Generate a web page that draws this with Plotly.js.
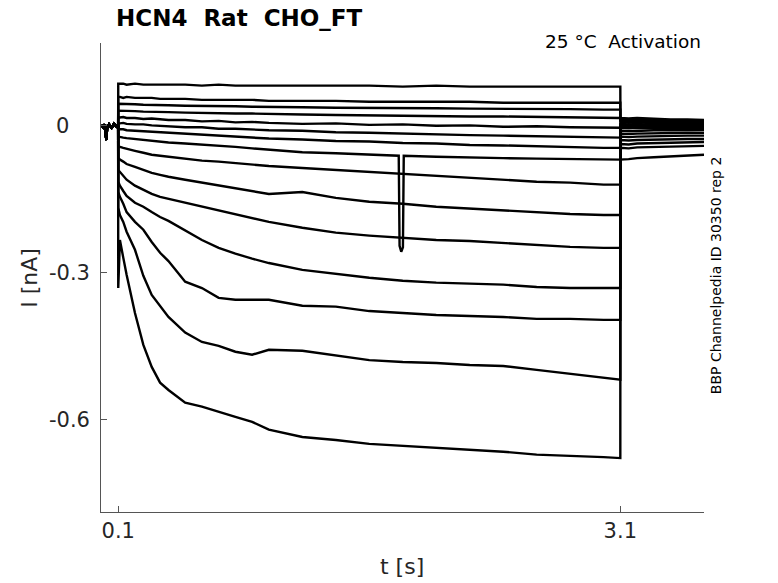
<!DOCTYPE html>
<html>
<head>
<meta charset="utf-8">
<script src="https://cdn.plot.ly/plotly-3.0.1.min.js"></script>
<style>
  html, body { margin: 0; padding: 0; background: #fff; }
  #chart { width: 778px; height: 583px; }
</style>
</head>
<body>
<div id="chart"></div>
<script>
// time base (s)
const preT = [0, 0.01, 0.02, 0.026, 0.029, 0.033, 0.045, 0.06, 0.075, 0.09, 0.0995];
const stepT = [0.1, 0.11, 0.13, 0.15, 0.2, 0.25, 0.3, 0.35, 0.4, 0.5, 0.6, 0.7, 0.8, 0.9, 1.0,
               1.2, 1.4, 1.6, 1.8, 2.0, 2.2, 2.4, 2.6, 2.8, 3.0, 3.1];
const tailT = [3.1005, 3.15, 3.2, 3.3, 3.4, 3.5, 3.6];

// holding current before the step (nA)
const preI = [0.002, -0.003, 0.003, -0.012, -0.029, -0.006, 0.003, -0.004, 0.004, -0.002, 0.0];

// current during the activation step (nA), top sweep first
const sweep01 = [0.086,0.086,0.086,0.084,0.086,0.084,0.084,0.084,0.084,0.084,0.082,0.084,0.082,0.082,0.082,0.082,0.082,0.082,0.080,0.082,0.080,0.080,0.080,0.080,0.080,0.080];
const sweep02 = [0.059,0.059,0.057,0.059,0.057,0.057,0.057,0.055,0.055,0.055,0.053,0.053,0.053,0.053,0.051,0.051,0.051,0.049,0.049,0.049,0.049,0.047,0.047,0.047,0.047,0.047];
const sweep03 = [0.045,0.045,0.044,0.045,0.044,0.043,0.043,0.042,0.042,0.041,0.041,0.040,0.040,0.039,0.039,0.038,0.037,0.037,0.036,0.036,0.035,0.035,0.034,0.034,0.033,0.033];
const sweep04 = [0.031,0.031,0.030,0.031,0.030,0.029,0.029,0.028,0.028,0.027,0.026,0.026,0.025,0.025,0.024,0.023,0.022,0.021,0.021,0.020,0.019,0.019,0.018,0.017,0.016,0.016];
const sweep05 = [0.018,0.017,0.018,0.016,0.016,0.014,0.015,0.013,0.012,0.012,0.009,0.010,0.007,0.008,0.006,0.004,0.005,0.002,0.003,0.000,0.001,-0.002,-0.001,-0.003,-0.004,-0.004];
const sweep06 = [0.006,0.005,0.006,0.004,0.003,0.003,0.001,0.000,0.000,-0.003,-0.003,-0.006,-0.006,-0.008,-0.009,-0.010,-0.013,-0.014,-0.016,-0.017,-0.019,-0.020,-0.021,-0.022,-0.024,-0.024];
const sweep07 = [-0.006,-0.007,-0.007,-0.009,-0.010,-0.011,-0.012,-0.014,-0.015,-0.017,-0.018,-0.021,-0.022,-0.025,-0.026,-0.028,-0.031,-0.032,-0.035,-0.036,-0.039,-0.040,-0.042,-0.043,-0.045,-0.045];
const sweep08 = [-0.022,-0.023,-0.024,-0.025,-0.027,-0.029,-0.031,-0.033,-0.034,-0.036,-0.038,-0.041,-0.043,-0.046,-0.049,-0.054,-0.056,-0.059,-0.061,-0.063,-0.065,-0.066,-0.067,-0.068,-0.069,-0.069];
const sweep09 = [-0.041,-0.043,-0.045,-0.047,-0.051,-0.055,-0.059,-0.061,-0.063,-0.067,-0.071,-0.073,-0.076,-0.080,-0.082,-0.086,-0.090,-0.094,-0.098,-0.102,-0.106,-0.110,-0.114,-0.116,-0.120,-0.120];
const sweep10 = [-0.065,-0.069,-0.073,-0.078,-0.084,-0.090,-0.096,-0.100,-0.104,-0.110,-0.116,-0.122,-0.127,-0.133,-0.139,-0.135,-0.147,-0.155,-0.159,-0.165,-0.169,-0.173,-0.176,-0.180,-0.182,-0.182];
const sweep11 = [-0.090,-0.094,-0.102,-0.110,-0.122,-0.131,-0.139,-0.145,-0.149,-0.157,-0.165,-0.173,-0.180,-0.188,-0.196,-0.208,-0.218,-0.224,-0.229,-0.233,-0.235,-0.239,-0.243,-0.247,-0.249,-0.249];
const sweep12 = [-0.114,-0.122,-0.133,-0.143,-0.157,-0.165,-0.176,-0.186,-0.194,-0.214,-0.233,-0.249,-0.261,-0.271,-0.280,-0.294,-0.302,-0.310,-0.316,-0.320,-0.322,-0.324,-0.329,-0.331,-0.331,-0.331];
const sweep13 = [-0.135,-0.145,-0.159,-0.176,-0.196,-0.212,-0.237,-0.259,-0.276,-0.318,-0.331,-0.351,-0.355,-0.355,-0.355,-0.367,-0.369,-0.378,-0.382,-0.386,-0.388,-0.390,-0.394,-0.394,-0.396,-0.396];
const sweep14 = [-0.167,-0.182,-0.196,-0.216,-0.253,-0.306,-0.345,-0.367,-0.390,-0.422,-0.441,-0.449,-0.461,-0.467,-0.457,-0.459,-0.469,-0.478,-0.482,-0.484,-0.488,-0.490,-0.498,-0.506,-0.514,-0.518];
const sweep15 = [-0.331,-0.233,-0.269,-0.304,-0.382,-0.447,-0.492,-0.524,-0.539,-0.565,-0.573,-0.584,-0.594,-0.604,-0.620,-0.635,-0.641,-0.649,-0.653,-0.657,-0.661,-0.665,-0.671,-0.673,-0.676,-0.678];

// tail current after the step (nA)
const tail01 = [0.016,0.015,0.016,0.014,0.013,0.013,0.012];
const tail02 = [0.014,0.012,0.013,0.011,0.011,0.010,0.010];
const tail03 = [0.012,0.010,0.011,0.009,0.009,0.008,0.008];
const tail04 = [0.010,0.008,0.009,0.007,0.007,0.006,0.006];
const tail05 = [0.008,0.006,0.007,0.005,0.005,0.004,0.004];
const tail06 = [0.004,0.003,0.004,0.002,0.003,0.002,0.002];
const tail07 = [0.000,-0.001,0.000,-0.001,0.000,0.000,0.000];
const tail08 = [-0.004,-0.005,-0.004,-0.005,-0.004,-0.004,-0.004];
const tail09 = [-0.010,-0.011,-0.010,-0.009,-0.009,-0.008,-0.008];
const tail10 = [-0.016,-0.017,-0.016,-0.015,-0.015,-0.014,-0.014];
const tail11 = [-0.022,-0.023,-0.022,-0.021,-0.021,-0.020,-0.020];
const tail12 = [-0.029,-0.030,-0.029,-0.028,-0.028,-0.027,-0.027];
const tail13 = [-0.037,-0.038,-0.036,-0.035,-0.035,-0.034,-0.033];
const tail14 = [-0.045,-0.046,-0.044,-0.043,-0.042,-0.042,-0.041];
const tail15 = [-0.069,-0.068,-0.066,-0.064,-0.062,-0.061,-0.059];

// artefact in sweep 8 around 1.8 s
const glitchT = [1.776, 1.781, 1.791, 1.801, 1.806];
const glitchI = [-0.061, -0.245, -0.257, -0.248, -0.061];

const xTickVals = [0.1, 3.1];
const xTickText = ['0.1', '3.1'];
const yTickVals = [0, -0.3, -0.6];
const yTickText = ['0', '-0.3', '-0.6'];

const sweeps = [sweep01, sweep02, sweep03, sweep04, sweep05, sweep06, sweep07, sweep08,
                sweep09, sweep10, sweep11, sweep12, sweep13, sweep14, sweep15];
const tails = [tail01, tail02, tail03, tail04, tail05, tail06, tail07, tail08,
               tail09, tail10, tail11, tail12, tail13, tail14, tail15];

const traces = sweeps.map((s, i) => {
  let pts = stepT.map((t, k) => [t, s[k]]);
  if (i === 7) {
    pts = pts.filter(p => p[0] < 1.77 || p[0] > 1.81);
    glitchT.forEach((t, k) => pts.push([t, glitchI[k]]));
    pts.sort((a, b) => a[0] - b[0]);
  }
  return {
    x: preT.concat(pts.map(p => p[0]), tailT),
    y: preI.concat(pts.map(p => p[1]), tails[i]),
    type: 'scatter',
    mode: 'lines',
    line: { color: '#000', width: 2.4 },
    hoverinfo: 'skip'
  };
});

const axisCol = '#555';
const tickCol = '#262626';

const annotations = [
  { text: '<b>HCN4\u00a0 Rat\u00a0 CHO_FT</b>', xref: 'paper', yref: 'paper',
    x: 0.021, y: 1.053, xanchor: 'left', yanchor: 'middle', showarrow: false,
    font: { size: 23, color: '#000' } },
  { text: '25 °C\u00a0 Activation', xref: 'paper', yref: 'paper',
    x: 0.998, y: 1.004, xanchor: 'right', yanchor: 'middle', showarrow: false,
    font: { size: 18.5, color: '#000' } },
  { text: 'BBP Channelpedia ID 30350 rep 2', xref: 'paper', yref: 'paper',
    x: 1.02, y: 0.505, xanchor: 'center', yanchor: 'middle', textangle: -90, showarrow: false,
    font: { size: 14, color: '#000' } },
  { text: 't [s]', xref: 'paper', yref: 'paper',
    x: 0.499, y: -0.117, xanchor: 'center', yanchor: 'middle', showarrow: false,
    font: { size: 22, color: tickCol } },
  { text: 'I [nA]', xref: 'paper', yref: 'paper',
    x: -0.118, y: 0.499, xanchor: 'center', yanchor: 'middle', textangle: -90, showarrow: false,
    font: { size: 22, color: tickCol } }
];

yTickVals.forEach((v, k) => {
  annotations.push({
    text: yTickText[k], xref: 'paper', yref: 'y',
    x: yTickText[k] === '0' ? -0.064 : -0.053, y: v,
    xanchor: 'center', yanchor: 'middle', showarrow: false,
    font: { size: 21, color: tickCol }
  });
});

const layout = {
  width: 778,
  height: 583,
  margin: { l: 101, r: 74, t: 43, b: 71 },
  paper_bgcolor: '#fff',
  plot_bgcolor: '#fff',
  showlegend: false,
  font: { family: 'DejaVu Sans', color: tickCol },
  xaxis: {
    range: [-0.003, 3.6],
    tickvals: xTickVals,
    ticktext: xTickText,
    ticks: 'inside',
    ticklen: 6,
    tickcolor: axisCol,
    showline: true,
    linecolor: axisCol,
    linewidth: 1,
    showgrid: false,
    zeroline: false,
    tickfont: { size: 21, color: tickCol }
  },
  yaxis: {
    range: [-0.788, 0.169],
    tickvals: yTickVals,
    ticks: 'inside',
    ticklen: 6,
    tickcolor: axisCol,
    showline: true,
    linecolor: axisCol,
    linewidth: 1,
    showgrid: false,
    zeroline: false,
    showticklabels: false
  },
  annotations: annotations
};

Plotly.newPlot('chart', traces, layout, { displayModeBar: false, staticPlot: true });
</script>
</body>
</html>
